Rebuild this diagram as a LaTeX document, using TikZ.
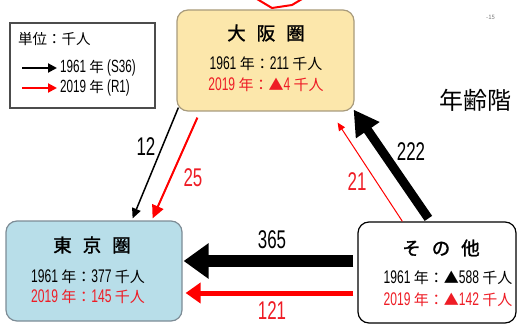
\documentclass[tikz,border=0pt]{standalone}
\usepackage{fontspec}
\setmainfont{Noto Sans CJK JP}
\newfontfamily\nmfont[FakeStretch=0.66,Scale=1.22]{Liberation Sans}
\newfontfamily\ttlfont[FakeBold=1.5]{Noto Sans CJK JP}
\usetikzlibrary{arrows.meta}
\newcommand\nm[1]{{\nmfont #1}}
\definecolor{osakafill}{HTML}{FCE7AB}
\definecolor{osakaline}{HTML}{A89B7C}
\definecolor{tokyofill}{HTML}{B8DEE9}
\definecolor{tokyoline}{HTML}{7D8C96}
\definecolor{txtred}{HTML}{EE1C25}
\begin{document}
\begin{tikzpicture}[x=1pt,y=-1pt,
  box/.style={rounded corners=11pt, line width=1.2pt, inner sep=0pt},
  ttl/.style={font=\ttlfont\fontsize{18.5}{19}\selectfont, inner sep=0pt},
  ln/.style={font=\fontsize{15}{15}\selectfont, inner sep=0pt},
  lbl/.style={font=\fontsize{21}{22}\selectfont, inner sep=0pt},
  lg/.style={font=\fontsize{14.5}{15}\selectfont, inner sep=0pt, anchor=west}]
\useasboundingbox (0,0) rectangle (519,326);
% decorative red fragment at top
\draw[red, line width=2pt] (257,-1) -- (272,8) -- (292,5) -- (302,-1);
% boxes
\node[box, draw=osakaline, fill=osakafill, minimum width=177pt, minimum height=101pt] (osaka) at (265.5,60.5) {};
\node[box, draw=tokyoline, fill=tokyofill, minimum width=176pt, minimum height=100pt] (tokyo) at (94,271) {};
\node[box, draw=black, fill=white, minimum width=158pt, minimum height=101pt] (other) at (437,272.5) {};
\node[draw=black!70, line width=1.2pt, minimum width=145pt, minimum height=85pt, inner sep=0pt] (legend) at (82.5,65.5) {};
% box texts
\node[ttl] (osakaT) at (266,33) {大\hspace{11pt}阪\hspace{11pt}圏};
\node[ln] (osaka1) at (266,64) {\nm{1961} 年：\nm{211} 千人};
\node[ln, text=txtred] (osaka2) at (266,85) {\nm{2019} 年：▲\nm{4} 千人};
\node[ttl] (tokyoT) at (92,245) {東\hspace{11pt}京\hspace{11pt}圏};
\node[ln] (tokyo1) at (88,277) {\nm{1961} 年：\nm{377} 千人};
\node[ln, text=txtred] (tokyo2) at (88,297) {\nm{2019} 年：\nm{145} 千人};
\node[ttl] (otherT) at (441,248) {そ\hspace{11pt}の\hspace{11pt}他};
\node[ln] (other1) at (448,278) {\nm{1961} 年：▲\nm{588} 千人};
\node[ln, text=txtred] (other2) at (448,300) {\nm{2019} 年：▲\nm{142} 千人};
% legend
\node[lg] (legT) at (18,39) {単位：千人};
\coordinate (lgA1) at (22,68);
\coordinate (lgA2) at (57,68);
\coordinate (lgB1) at (22,88);
\coordinate (lgB2) at (57,88);
\draw[line width=2pt, -{Triangle[length=9pt,width=9pt]}] (lgA1) -- (lgA2);
\draw[red, line width=2pt, -{Triangle[length=9pt,width=9pt]}] (lgB1) -- (lgB2);
\node[lg] (legA) at (60,68) {\nm{1961} 年 \nm{(S36)}};
\node[lg] (legB) at (60,88) {\nm{2019} 年 \nm{(R1)}};
% arrows
\draw[line width=1.5pt, -{Triangle[length=10pt,width=9pt]}]
  ([shift={(2,-4)}]osaka.south west) -- ([shift={(-50,-2)}]tokyo.north east);
\draw[red, line width=2pt, -{Triangle[length=13pt,width=12pt]}]
  ([shift={(21,6)}]osaka.south west) -- ([shift={(-30,-2)}]tokyo.north east);
\draw[red, line width=1pt, -{Triangle[length=8pt,width=7pt]}]
  ([shift={(45,0)}]other.north west) -- ([shift={(-17,11)}]osaka.south east);
\draw[line width=9pt, -{Triangle[length=25pt,width=27pt]}]
  ([shift={(71,-3)}]other.north west) -- ([shift={(-1,-2)}]osaka.south east);
\draw[line width=12pt, -{Triangle[length=25pt,width=34pt]}]
  ([shift={(-4,-11.5)}]other.west) -- ([shift={(1,-10)}]tokyo.east);
\draw[red, line width=5pt, -{Triangle[length=15pt,width=20pt]}]
  ([shift={(-4,20.5)}]other.west) -- ([shift={(3,22)}]tokyo.east);
% arrow labels
\node[lbl] (l12) at (146,147) {\nm{12}};
\node[lbl, text=txtred] (l25) at (193,178) {\nm{25}};
\node[lbl, text=txtred] (l21) at (357,182) {\nm{21}};
\node[lbl] (l222) at (411,152) {\nm{222}};
\node[lbl] (l365) at (272,240) {\nm{365}};
\node[lbl, text=txtred] (l121) at (272,311) {\nm{121}};
% page fragments
\node[font=\fontsize{6}{6}\selectfont, text=black!55, inner sep=0pt, anchor=west] (pg) at (486,17) {-15};
\node[font=\fontsize{24}{24}\selectfont, inner sep=0pt, anchor=west] (title) at (439,100) {年齢階};
\end{tikzpicture}
\end{document}
